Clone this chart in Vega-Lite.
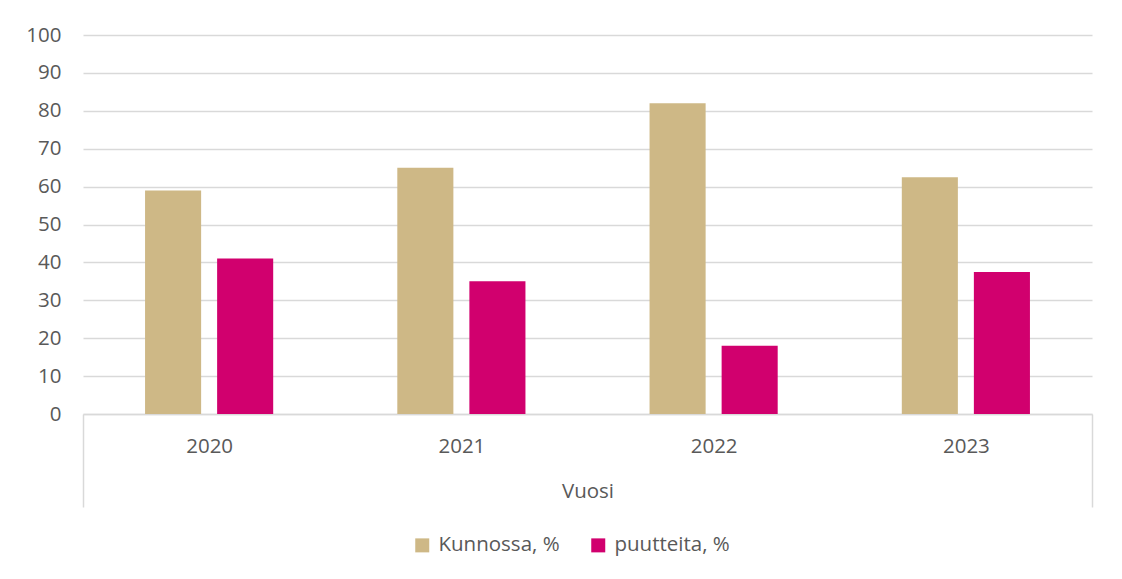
{
  "$schema": "https://vega.github.io/schema/vega-lite/v6.json",
  "width": 1009,
  "height": 379,
  "autosize": {"type": "none"},
  "padding": {"left": 83, "top": 35, "right": 30, "bottom": 165},
  "background": "white",
  "config": {
    "view": {"stroke": null},
    "font": "Open Sans"
  },
  "data": {
    "values": [
      {"Vuosi": "2020", "sarja": "Kunnossa, %", "arvo": 59},
      {"Vuosi": "2020", "sarja": "puutteita, %", "arvo": 41},
      {"Vuosi": "2021", "sarja": "Kunnossa, %", "arvo": 65},
      {"Vuosi": "2021", "sarja": "puutteita, %", "arvo": 35},
      {"Vuosi": "2022", "sarja": "Kunnossa, %", "arvo": 82},
      {"Vuosi": "2022", "sarja": "puutteita, %", "arvo": 18},
      {"Vuosi": "2023", "sarja": "Kunnossa, %", "arvo": 62.5},
      {"Vuosi": "2023", "sarja": "puutteita, %", "arvo": 37.5}
    ]
  },
  "mark": {"type": "bar"},
  "encoding": {
    "x": {
      "field": "Vuosi",
      "type": "nominal",
      "scale": {"paddingInner": 0, "paddingOuter": 0},
      "axis": {
        "title": "Vuosi",
        "domainColor": "#d9d9d9",
        "domainWidth": 1.5,
        "ticks": true,
        "tickBand": "extent",
        "tickSize": 93,
        "tickColor": "#d9d9d9",
        "tickWidth": 1.5,
        "tickOpacity": {"condition": {"test": "datum.extra || datum.value == '2023'", "value": 1}, "value": 0},
        "labelAngle": 0,
        "labelFontSize": 20.5,
        "labelColor": "#595959",
        "labelPadding": -71,
        "labelBaseline": "top",
        "titleFontSize": 20.5,
        "titleFontWeight": "normal",
        "titleColor": "#595959",
        "titlePadding": -26
      }
    },
    "xOffset": {
      "field": "sarja",
      "type": "nominal",
      "sort": ["Kunnossa, %", "puutteita, %"],
      "scale": {"paddingInner": 0.222, "paddingOuter": 0.861}
    },
    "y": {
      "field": "arvo",
      "type": "quantitative",
      "scale": {"domain": [0, 100], "nice": false},
      "axis": {
        "values": [0, 10, 20, 30, 40, 50, 60, 70, 80, 90, 100],
        "title": null,
        "domain": false,
        "ticks": false,
        "gridColor": "#d9d9d9",
        "gridWidth": 1.4,
        "labelFontSize": 20.5,
        "labelColor": "#595959",
        "labelPadding": 22
      }
    },
    "color": {
      "field": "sarja",
      "type": "nominal",
      "sort": ["Kunnossa, %", "puutteita, %"],
      "scale": {"range": ["#CEB886", "#D1006E"]},
      "legend": {
        "orient": "none",
        "legendX": 329,
        "legendY": 500,
        "direction": "horizontal",
        "title": null,
        "symbolType": "square",
        "symbolSize": 196,
        "symbolStrokeWidth": 0,
        "labelFontSize": 20.5,
        "labelColor": "#595959",
        "labelOffset": 6,
        "columnPadding": 28
      }
    }
  }
}
